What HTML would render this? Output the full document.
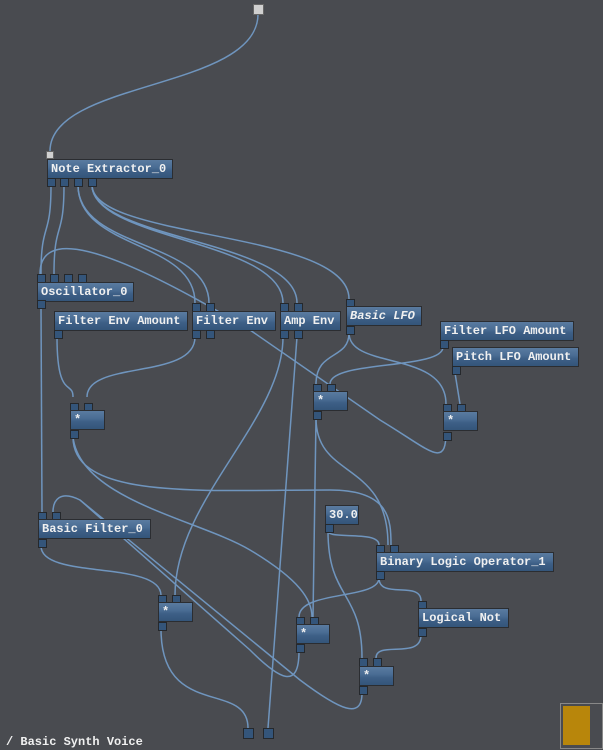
<!DOCTYPE html>
<html><head><meta charset="utf-8"><style>
body{margin:0;width:603px;height:750px;background:#494b50;overflow:hidden;position:relative;font-family:"Liberation Mono",monospace;}
.n{position:absolute;height:18px;border:1px solid #2b2d31;background:linear-gradient(#5a7ba0 0,#4a6d94 40%,#3d5f86 60%,#34557a 100%);color:#f0f0f0;font-size:12px;font-weight:bold;line-height:19px;padding-left:3px;box-sizing:content-box;white-space:nowrap}
.p{position:absolute;width:7px;height:7px;background:#34557a;border:1px solid #25282c}
svg{position:absolute;left:0;top:0}
.lbl{position:absolute;left:6px;top:735px;color:#f0f0f0;font-size:12px;font-weight:bold}
</style></head><body>
<svg width="603" height="750" fill="none" stroke="#6f95be" stroke-width="1.5">
<path d="M258 14 C258 90 50 80 50 151"/>
<path d="M51 185 C51 240 41 220 41 274"/>
<path d="M64 185 C64 240 54 220 54 274"/>
<path d="M78 185 C78 250 195 240 195 303"/>
<path d="M78 185 C78 250 209 240 209 303"/>
<path d="M92 185 C92 240 283 240 283 303"/>
<path d="M92 185 C92 240 297 240 297 303"/>
<path d="M92 185 C92 240 349 230 349 299"/>
<path d="M41 307 L42 512"/>
<path d="M40 274 C40 230 100 240 250 330 L380 420 C430 450 446 470 446 432"/>
<path d="M57 337 C57 400 73 380 73 397"/>
<path d="M195 337 C195 380 87 360 87 397"/>
<path d="M73 437 C73 500 200 490 330 490 C390 490 391 520 391 545"/>
<path d="M73 437 C80 500 200 520 250 550 C300 580 312 600 312 617"/>
<path d="M283 337 C283 420 175 500 175 595"/>
<path d="M297 337 L268 728"/>
<path d="M349 333 C349 360 316 350 316 384"/>
<path d="M349 333 C349 370 446 350 446 404"/>
<path d="M443 347 C443 370 330 360 330 384"/>
<path d="M455 373 L460 404"/>
<path d="M316 418 L313 617"/>
<path d="M316 418 C316 480 388 460 388 545"/>
<path d="M41 546 C41 580 160 560 161 595"/>
<path d="M161 629 C161 720 248 680 248 728"/>
<path d="M328 531 C328 540 379 530 379 545"/>
<path d="M328 531 C328 600 362 590 362 658"/>
<path d="M379 578 C379 600 421 580 421 601"/>
<path d="M379 578 C379 600 299 590 299 617"/>
<path d="M421 635 C421 660 376 640 376 658"/>
<path d="M362 693 C362 720 340 710 300 680 L80 500 C60 490 53 500 53 512"/>
<path d="M299 651 C299 690 280 680 250 650 L80 500"/>
</svg>
<div class="p" style="left:253px;top:4px;width:9px;height:9px;background:#d0d0d0;border-color:#666"></div>
<div class="p" style="left:46px;top:151px;background:#d0d0d0;border-color:#666;width:6px;height:6px"></div>
<div class="n" style="left:47px;top:159px;width:121px">Note Extractor_0</div>
<div class="p" style="left:47px;top:178px"></div><div class="p" style="left:60px;top:178px"></div><div class="p" style="left:74px;top:178px"></div><div class="p" style="left:88px;top:178px"></div>
<div class="p" style="left:37px;top:274px"></div><div class="p" style="left:50px;top:274px"></div><div class="p" style="left:64px;top:274px"></div><div class="p" style="left:78px;top:274px"></div>
<div class="n" style="left:37px;top:282px;width:92px">Oscillator_0</div><div class="p" style="left:37px;top:300px"></div>
<div class="n" style="left:54px;top:311px;width:129px">Filter Env Amount</div><div class="p" style="left:54px;top:330px"></div>
<div class="p" style="left:192px;top:303px"></div><div class="p" style="left:206px;top:303px"></div>
<div class="n" style="left:192px;top:311px;width:79px">Filter Env</div><div class="p" style="left:192px;top:330px"></div><div class="p" style="left:206px;top:330px"></div>
<div class="p" style="left:280px;top:303px"></div><div class="p" style="left:294px;top:303px"></div>
<div class="n" style="left:280px;top:311px;width:56px">Amp Env</div><div class="p" style="left:280px;top:330px"></div><div class="p" style="left:294px;top:330px"></div>
<div class="p" style="left:346px;top:299px"></div>
<div class="n" style="left:346px;top:306px;width:71px;font-style:italic">Basic LFO</div><div class="p" style="left:346px;top:326px"></div>
<div class="n" style="left:440px;top:321px;width:129px">Filter LFO Amount</div><div class="p" style="left:440px;top:340px"></div>
<div class="n" style="left:452px;top:347px;width:122px">Pitch LFO Amount</div><div class="p" style="left:452px;top:366px"></div>
<div class="p" style="left:70px;top:403px"></div><div class="p" style="left:84px;top:403px"></div>
<div class="n" style="left:70px;top:410px;width:30px">*</div><div class="p" style="left:70px;top:430px"></div>
<div class="p" style="left:313px;top:384px"></div><div class="p" style="left:327px;top:384px"></div>
<div class="n" style="left:313px;top:391px;width:30px">*</div><div class="p" style="left:313px;top:411px"></div>
<div class="p" style="left:443px;top:404px"></div><div class="p" style="left:457px;top:404px"></div>
<div class="n" style="left:443px;top:411px;width:30px">*</div><div class="p" style="left:443px;top:432px"></div>
<div class="n" style="left:325px;top:505px;width:29px">30.0</div><div class="p" style="left:325px;top:524px"></div>
<div class="p" style="left:38px;top:512px"></div><div class="p" style="left:52px;top:512px"></div>
<div class="n" style="left:38px;top:519px;width:108px">Basic Filter_0</div><div class="p" style="left:38px;top:539px"></div>
<div class="p" style="left:376px;top:545px"></div><div class="p" style="left:390px;top:545px"></div>
<div class="n" style="left:376px;top:552px;width:173px">Binary Logic Operator_1</div><div class="p" style="left:376px;top:571px"></div>
<div class="p" style="left:158px;top:595px"></div><div class="p" style="left:172px;top:595px"></div>
<div class="n" style="left:158px;top:602px;width:30px">*</div><div class="p" style="left:158px;top:622px"></div>
<div class="p" style="left:296px;top:617px"></div><div class="p" style="left:310px;top:617px"></div>
<div class="n" style="left:296px;top:624px;width:29px">*</div><div class="p" style="left:296px;top:644px"></div>
<div class="p" style="left:418px;top:601px"></div>
<div class="n" style="left:418px;top:608px;width:86px">Logical Not</div><div class="p" style="left:418px;top:628px"></div>
<div class="p" style="left:359px;top:658px"></div><div class="p" style="left:373px;top:658px"></div>
<div class="n" style="left:359px;top:666px;width:30px">*</div><div class="p" style="left:359px;top:686px"></div>
<div class="p" style="left:243px;top:728px;width:9px;height:9px"></div><div class="p" style="left:263px;top:728px;width:9px;height:9px"></div>
<div class="lbl">/ Basic Synth Voice</div>
<div style="position:absolute;left:560px;top:703px;width:41px;height:44px;border:1px solid #888"></div>
<div style="position:absolute;left:563px;top:706px;width:27px;height:39px;background:#b8860b"></div>
</body></html>
